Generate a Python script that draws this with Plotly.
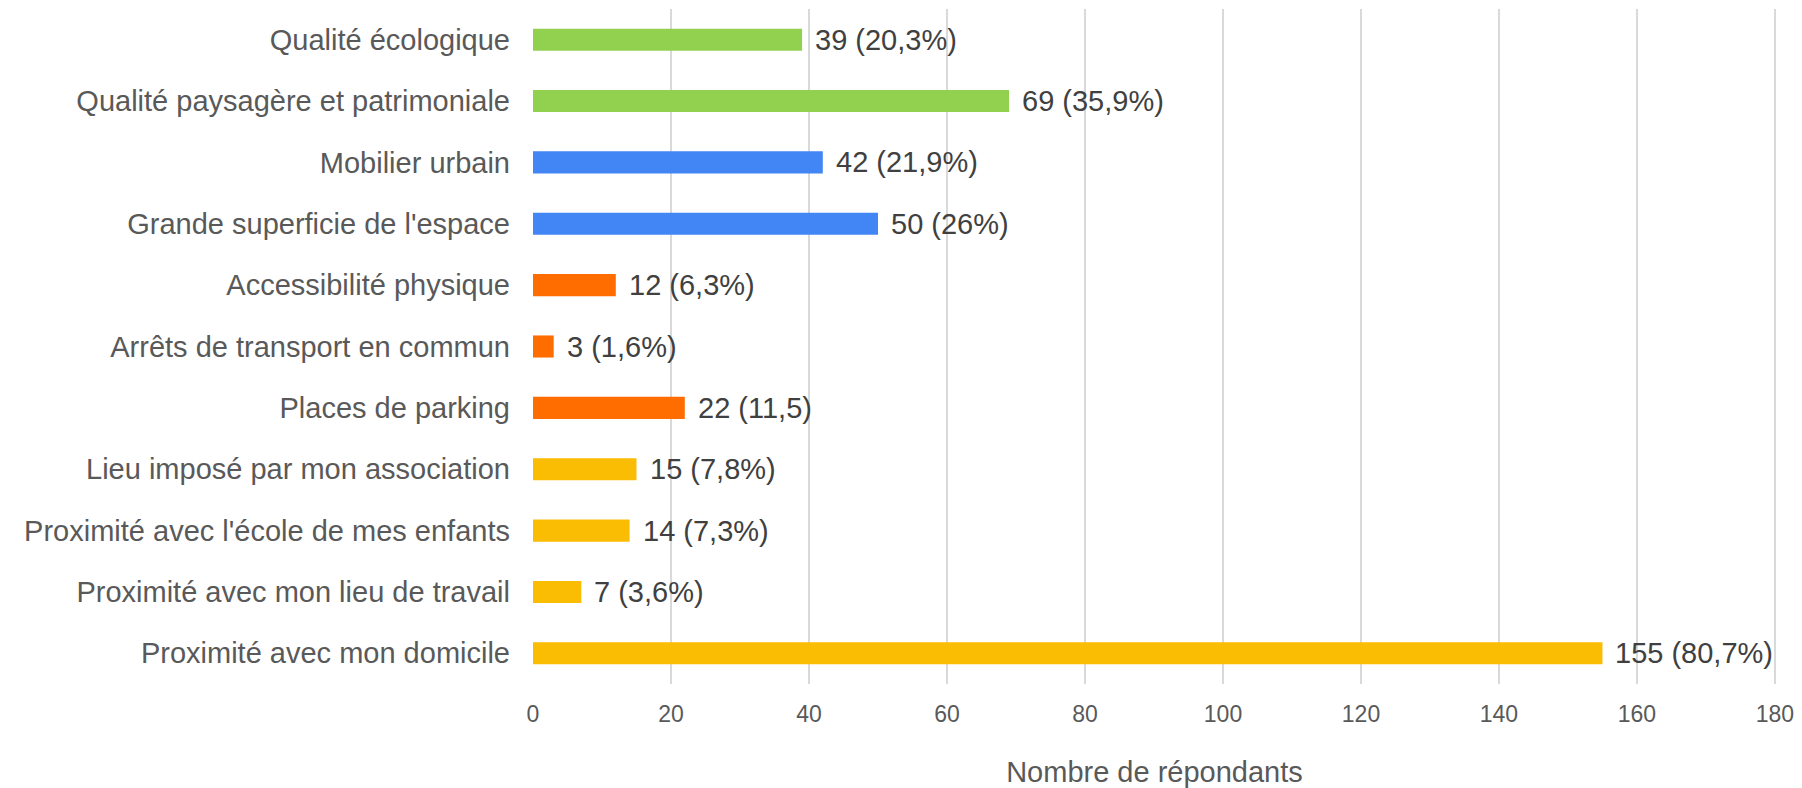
import plotly.graph_objects as go

categories = [
    "Qualité écologique",
    "Qualité paysagère et patrimoniale",
    "Mobilier urbain",
    "Grande superficie de l'espace",
    "Accessibilité physique",
    "Arrêts de transport en commun",
    "Places de parking",
    "Lieu imposé par mon association",
    "Proximité avec l'école de mes enfants",
    "Proximité avec mon lieu de travail",
    "Proximité avec mon domicile",
]
values = [39, 69, 42, 50, 12, 3, 22, 15, 14, 7, 155]
value_labels = [
    "39 (20,3%)", "69 (35,9%)", "42 (21,9%)", "50 (26%)", "12 (6,3%)",
    "3 (1,6%)", "22 (11,5)", "15 (7,8%)", "14 (7,3%)", "7 (3,6%)", "155 (80,7%)",
]
groups = ["eco", "eco", "space", "space", "access", "access", "access",
          "prox", "prox", "prox", "prox"]
group_colors = {"eco": "#92D050", "space": "#4285F4", "access": "#FF6D01", "prox": "#FBBC04"}
x_ticks = [0, 20, 40, 60, 80, 100, 120, 140, 160, 180]
x_title = "Nombre de répondants"

FONT = "Liberation Sans, Arial, sans-serif"

fig = go.Figure()
fig.add_trace(go.Bar(
    x=values,
    y=categories,
    orientation="h",
    width=0.36,
    marker=dict(color=[group_colors[g] for g in groups], line=dict(width=0)),
    hoverinfo="skip",
))

for v, c, t in zip(values, categories, value_labels):
    fig.add_annotation(
        x=v, y=c, text=t, showarrow=False, xanchor="left", xshift=11,
        font=dict(family=FONT, size=29, color="#404040"),
    )

fig.update_layout(
    width=1802, height=788,
    margin=dict(l=533, r=26, t=9, b=104, autoexpand=False),
    plot_bgcolor="white", paper_bgcolor="white",
    showlegend=False,
    font=dict(family=FONT),
)
fig.update_xaxes(
    range=[0, 180.15], tickvals=x_ticks,
    showgrid=True, gridcolor="#D9D9D9", gridwidth=2,
    zeroline=False, showline=False,
    tickfont=dict(family=FONT, size=23, color="#595959"),
    ticks="", ticklabelstandoff=14, ticklabeloverflow="allow",
    title=dict(text=x_title, font=dict(family=FONT, size=29, color="#595959"), standoff=39),
    automargin=False,
)
fig.update_yaxes(
    autorange="reversed", showgrid=False, zeroline=False, showline=False,
    tickfont=dict(family=FONT, size=29, color="#595959"),
    ticks="", ticklabelstandoff=22,
    automargin=False,
)

fig.write_html(
    "out.html",
    config={"displayModeBar": False},
    post_script="document.body.style.margin='0';document.body.style.overflow='hidden';",
)
